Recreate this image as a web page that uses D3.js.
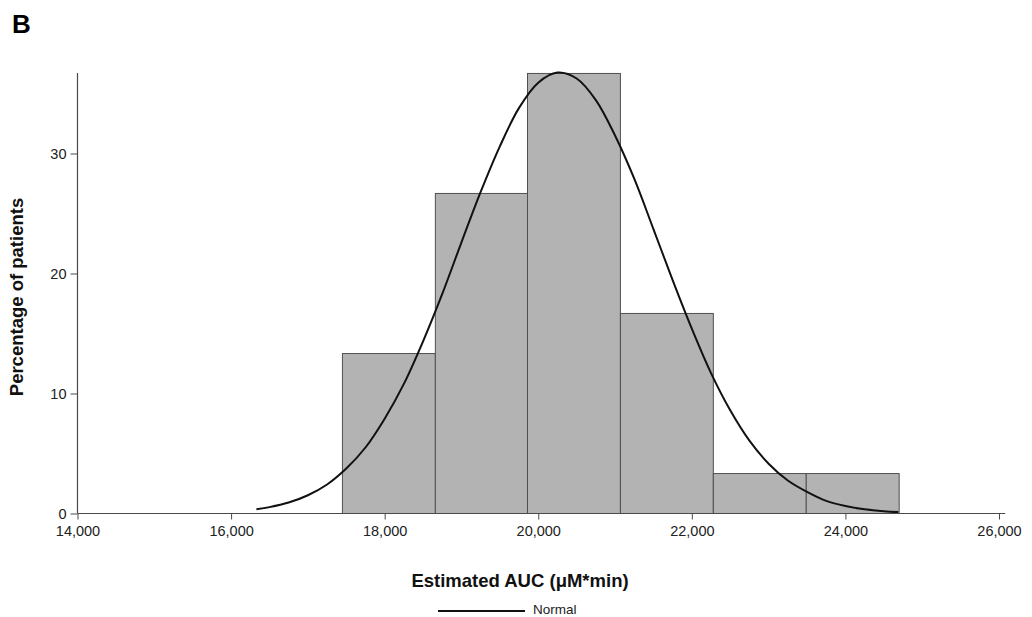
<!DOCTYPE html>
<html>
<head>
<meta charset="utf-8">
<script src="https://cdn.jsdelivr.net/npm/d3@7/dist/d3.min.js"></script>
<style>
  html, body { margin: 0; padding: 0; background: #fff; }
  svg { display: block; font-family: "Liberation Sans", Arial, sans-serif; }
</style>
</head>
<body>
<svg id="chart" width="1032" height="617"></svg>
<script>
// Histogram bins (Estimated AUC, µM*min) and percentage of patients
const binEdges = [17450, 18660, 19860, 21070, 22280, 23490, 24700];
const binPercents = [13.33, 26.67, 36.67, 16.67, 3.33, 3.33];

// Fitted normal curve
const normalX = [16330, 16500, 16750, 17000, 17250, 17500, 17750, 18000, 18250, 18500, 18750, 19000, 19250, 19500, 19750, 20000, 20250, 20500, 20750, 21000, 21250, 21500, 21750, 22000, 22250, 22500, 22750, 23000, 23250, 23500, 23750, 24000, 24250, 24500, 24690];
const normalY = [0.36, 0.53, 0.91, 1.52, 2.42, 3.75, 5.5, 7.9, 10.8, 14.35, 18.3, 22.6, 26.8, 30.6, 33.8, 35.9, 36.74, 36.25, 34.45, 31.5, 27.9, 23.7, 19.45, 15.4, 11.7, 8.6, 6.07, 4.15, 2.75, 1.8, 1.05, 0.62, 0.35, 0.19, 0.12];

const xTicks = [14000, 16000, 18000, 20000, 22000, 24000, 26000];
const yTicks = [0, 10, 20, 30];

const svg = d3.select("#chart");
const axisColor = "#4a4a4a";

const x = d3.scaleLinear().domain([14000, 26000]).range([77.5, 999]);
const y = d3.scaleLinear().domain([0, 30]).range([513.5, 153.5]);

// Bars
const bins = binPercents.map((v, i) => ({ x0: binEdges[i], x1: binEdges[i + 1], v }));
svg.append("g").selectAll("rect").data(bins).join("rect")
  .attr("x", d => x(d.x0))
  .attr("y", d => y(d.v))
  .attr("width", d => x(d.x1) - x(d.x0))
  .attr("height", d => y(0) - y(d.v))
  .attr("fill", "#b3b3b3")
  .attr("stroke", "#505050")
  .attr("stroke-width", 1);

// Axes
const fmt = d3.format(",");
const xAxis = svg.append("g").attr("transform", `translate(0,${y(0)})`)
  .call(d3.axisBottom(x).tickValues(xTicks).tickFormat(fmt).tickSize(6).tickPadding(6).tickSizeOuter(0));
const yAxis = svg.append("g").attr("transform", `translate(${x(14000)},0)`)
  .call(d3.axisLeft(y).tickValues(yTicks).tickSize(7).tickPadding(4).tickSizeOuter(0));

[xAxis, yAxis].forEach(g => {
  g.select(".domain").remove();
  g.attr("font-size", null).attr("font-family", null);
  g.selectAll("line").attr("stroke", axisColor);
  g.selectAll("text").attr("fill", "#222").style("font-size", "14.5px")
    .style("font-family", "'Liberation Sans', Arial, sans-serif");
});
yAxis.selectAll("text").attr("dy", "0.36em");
// Axis lines (extend slightly beyond ticks as in the original)
svg.append("line").attr("x1", x(14000)).attr("x2", x(26080)).attr("y1", y(0)).attr("y2", y(0))
  .attr("stroke", axisColor).attr("stroke-width", 1.2);
svg.append("line").attr("x1", x(14000)).attr("x2", x(14000)).attr("y1", y(0)).attr("y2", y(36.7))
  .attr("stroke", axisColor).attr("stroke-width", 1.2);

// Normal curve
const pts = normalX.map((v, i) => [v, normalY[i]]);
svg.append("path").datum(pts)
  .attr("d", d3.line().x(d => x(d[0])).y(d => y(d[1])).curve(d3.curveCatmullRom.alpha(0.5)))
  .attr("fill", "none").attr("stroke", "#111").attr("stroke-width", 2);

// Panel letter
svg.append("text").attr("x", 12).attr("y", 33).text("B")
  .style("font-size", "26px").style("font-weight", "bold").attr("fill", "#000");

// Axis titles
svg.append("text").attr("transform", "translate(23,297) rotate(-90)")
  .attr("text-anchor", "middle").text("Percentage of patients")
  .style("font-size", "18.5px").style("font-weight", "bold").attr("fill", "#111");
svg.append("text").attr("x", 520).attr("y", 587).attr("text-anchor", "middle")
  .text("Estimated AUC (μM*min)")
  .style("font-size", "18.5px").style("font-weight", "bold").attr("fill", "#111");

// Legend
svg.append("line").attr("x1", 438).attr("x2", 525).attr("y1", 611).attr("y2", 611)
  .attr("stroke", "#111").attr("stroke-width", 2);
svg.append("text").attr("x", 533).attr("y", 613.5).text("Normal")
  .style("font-size", "13.5px").attr("fill", "#222");
</script>
</body>
</html>
